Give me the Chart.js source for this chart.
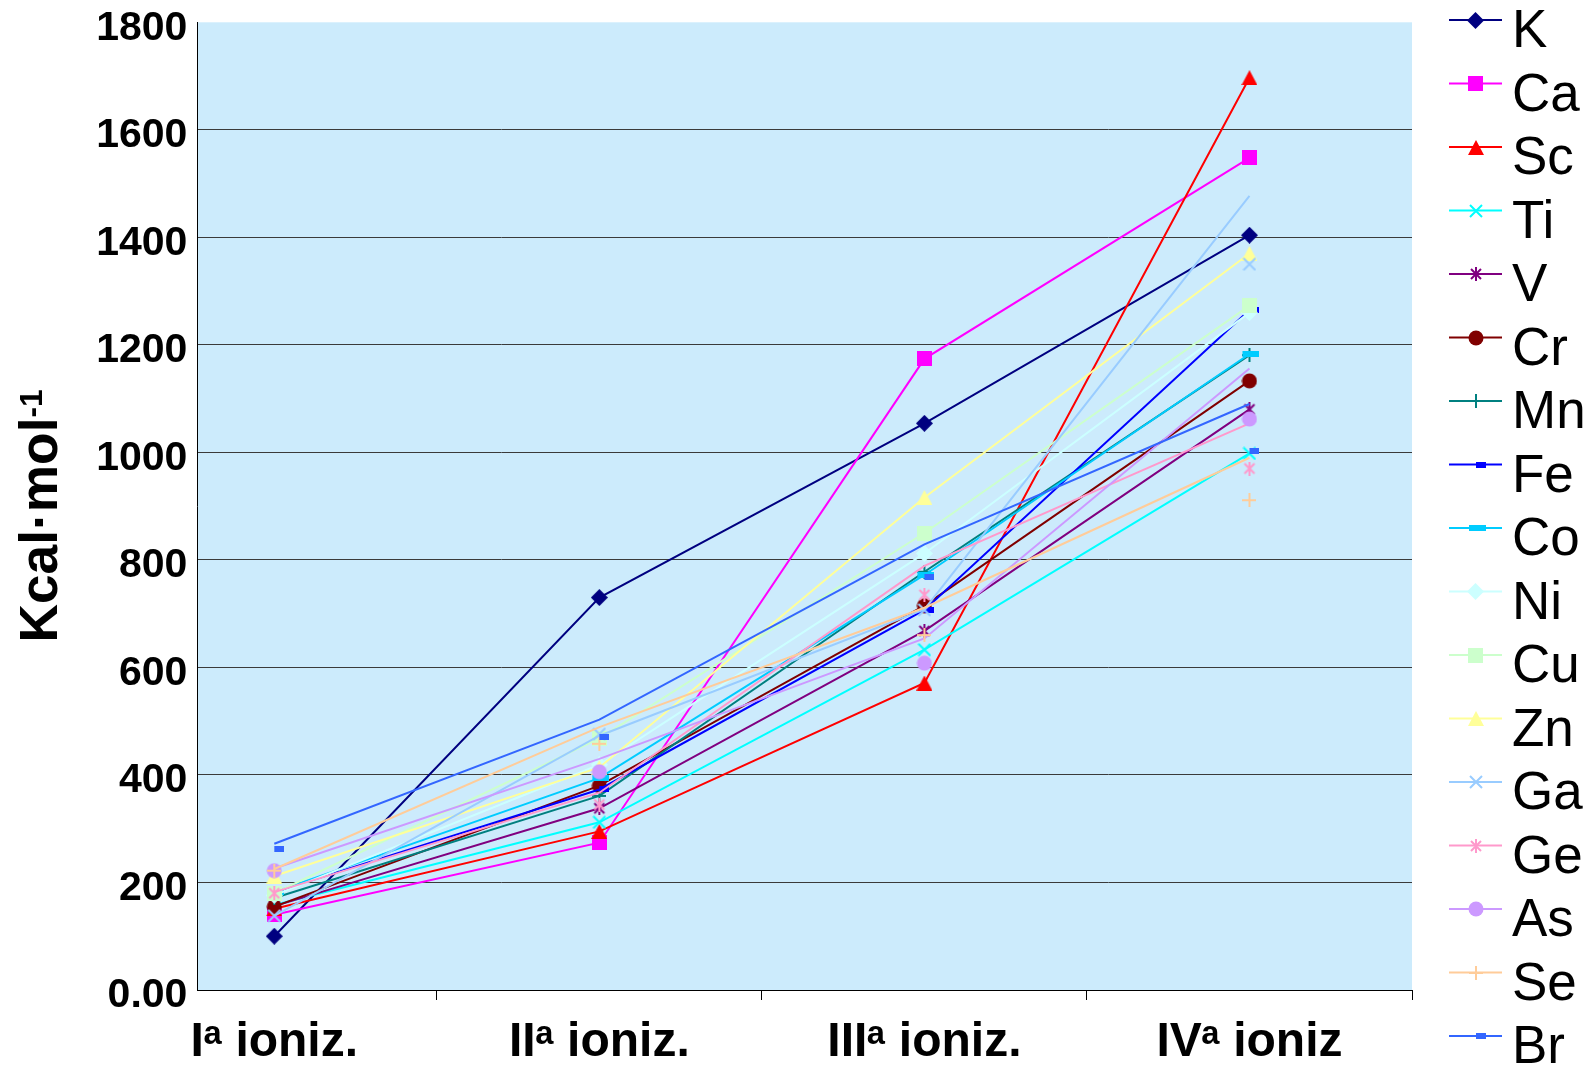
<!DOCTYPE html>
<html>
<head>
<meta charset="utf-8">
<script src="https://cdn.jsdelivr.net/npm/chart.js@4"></script>
<style>
  html, body { margin: 0; padding: 0; background: #fff; overflow: hidden; }
  #wrap { width: 1587px; height: 1077px; }
</style>
</head>
<body>
<div id="wrap"><canvas id="chart" width="1587" height="1077"></canvas></div>
<script>
// Successive ionization energies, kcal/mol
const categories = ['Iᵃ ioniz.', 'IIᵃ ioniz.', 'IIIᵃ ioniz.', 'IVᵃ ioniz'];
const yTickValues = [0, 200, 400, 600, 800, 1000, 1200, 1400, 1600, 1800];
const xTickValues = [0, 0.5, 1, 1.5, 2, 2.5, 3, 3.5];
const yTitle = 'Kcal·mol';
const yTitleSup = '-1';
const elements = ['K', 'Ca', 'Sc', 'Ti', 'V', 'Cr', 'Mn', 'Fe', 'Co', 'Ni', 'Cu', 'Zn', 'Ga', 'Ge', 'As', 'Se', 'Br'];

const K  = [100, 730, 1054, 1404];
const Ca = [140, 274, 1174, 1548];
const Sc = [151, 295, 571, 1697];
const Ti = [158, 312, 633, 998];
const V  = [156, 338, 668, 1080];
const Cr = [155, 380, 715, 1133];
const Mn = [171, 361, 778, 1181];
const Fe = [182, 373, 707, 1265];
const Co = [182, 394, 772, 1183];
const Ni = [176, 419, 812, 1260];
const Cu = [180, 468, 850, 1273];
const Zn = [212, 414, 916, 1370];
const Ga = [138, 473, 708, 1477];
const Ge = [182, 367, 789, 1054];
const As = [226, 430, 654, 1156];
const Se = [225, 489, 711, 990];
const Br = [272, 503, 829, 1090];

// Marker positions for the series whose symbols sit apart from their line
const GaMarks = [138, 476, 707, 1350];
const GeMarks = [180, 345, 735, 970];
const AsMarks = [222, 406, 608, 1062];
const SeMarks = [222, 458, 660, 911];
const BrMarks = [262, 470, 768, 1003];

const lineValues = { K, Ca, Sc, Ti, V, Cr, Mn, Fe, Co, Ni, Cu, Zn, Ga, Ge, As, Se, Br };
const markValues = { Ga: GaMarks, Ge: GeMarks, As: AsMarks, Se: SeMarks, Br: BrMarks };

const seriesStyle = {
  K:  { color: '#000080', marker: 'diamond' },
  Ca: { color: '#FF00FF', marker: 'square' },
  Sc: { color: '#FF0000', marker: 'triangle' },
  Ti: { color: '#00FFFF', marker: 'x' },
  V:  { color: '#800080', marker: 'asterisk' },
  Cr: { color: '#800000', marker: 'circle' },
  Mn: { color: '#008080', marker: 'plus' },
  Fe: { color: '#0000FF', marker: 'dash' },
  Co: { color: '#00CCFF', marker: 'bar' },
  Ni: { color: '#CCFFFF', marker: 'diamond' },
  Cu: { color: '#CCFFCC', marker: 'square' },
  Zn: { color: '#FFFF99', marker: 'triangle' },
  Ga: { color: '#99CCFF', marker: 'x' },
  Ge: { color: '#FF99CC', marker: 'asterisk' },
  As: { color: '#CC99FF', marker: 'circle' },
  Se: { color: '#FFCC99', marker: 'plus' },
  Br: { color: '#3366FF', marker: 'dash' }
};

// Small canvases used as point symbols (and in the legend)
function makeMarker(kind, color) {
  const c = document.createElement('canvas');
  const g = c.getContext('2d');
  const size = (w, h) => {
    c.width = w; c.height = h;
    g.fillStyle = color; g.strokeStyle = color; g.lineWidth = 2;
  };
  switch (kind) {
    case 'diamond':
      size(17, 17);
      g.beginPath(); g.moveTo(8.5, 0); g.lineTo(17, 8.5); g.lineTo(8.5, 17); g.lineTo(0, 8.5); g.closePath(); g.fill();
      break;
    case 'square':
      size(15, 15); g.fillRect(0, 0, 15, 15);
      break;
    case 'triangle':
      size(16, 15);
      g.beginPath(); g.moveTo(8, 0); g.lineTo(16, 15); g.lineTo(0, 15); g.closePath(); g.fill();
      break;
    case 'circle':
      size(16, 16);
      g.beginPath(); g.arc(8, 8, 7.5, 0, Math.PI * 2); g.fill();
      break;
    case 'x':
      size(14, 14);
      g.beginPath(); g.moveTo(1, 1); g.lineTo(13, 13); g.moveTo(13, 1); g.lineTo(1, 13); g.stroke();
      break;
    case 'asterisk':
      size(14, 14);
      g.beginPath(); g.moveTo(2, 2); g.lineTo(12, 12); g.moveTo(12, 2); g.lineTo(2, 12);
      g.moveTo(7, 0); g.lineTo(7, 14); g.stroke();
      break;
    case 'plus':
      size(14, 14);
      g.beginPath(); g.moveTo(7, 0); g.lineTo(7, 14); g.moveTo(0, 7); g.lineTo(14, 7); g.stroke();
      break;
    case 'dash':
      size(20, 6); g.fillRect(10, 0, 10, 6);
      break;
    case 'bar':
      size(20, 6); g.fillRect(3, 0, 17, 6);
      break;
  }
  return c;
}

const markers = {};
elements.forEach(n => { markers[n] = makeMarker(seriesStyle[n].marker, seriesStyle[n].color); });

const toPoints = arr => arr.map((v, i) => ({ x: i, y: v }));

// Each element: its polyline, then its symbols on top; later elements drawn above earlier ones
const datasets = [];
elements.forEach((n, i) => {
  const col = seriesStyle[n].color;
  datasets.push({
    label: n,
    data: toPoints(lineValues[n]),
    borderColor: col,
    backgroundColor: col,
    borderWidth: 2,
    pointRadius: 0,
    tension: 0,
    fill: false,
    order: 1000 - 2 * i
  });
  datasets.push({
    label: n + ' symbols',
    data: toPoints(markValues[n] || lineValues[n]),
    showLine: false,
    pointStyle: markers[n],
    pointRadius: 6,
    borderColor: col,
    backgroundColor: col,
    order: 1000 - 2 * i - 1
  });
});

const FONT = '"Liberation Sans", Arial, sans-serif';

const backdrop = {
  id: 'backdrop',
  beforeDraw(chart) {
    const { ctx, chartArea: a } = chart;
    ctx.save();
    ctx.fillStyle = '#ffffff';
    ctx.fillRect(0, 0, chart.width, chart.height);
    ctx.fillStyle = '#CCEBFC';
    ctx.fillRect(a.left, a.top, a.right - a.left, a.bottom - a.top);
    ctx.restore();
  }
};

const decorations = {
  id: 'decorations',
  afterDraw(chart) {
    const ctx = chart.ctx;

    // Rotated axis title with superscript exponent
    ctx.save();
    ctx.translate(38, 516);
    ctx.rotate(-Math.PI / 2);
    const fMain = 'bold 54px ' + FONT;
    const fSup = 'bold 32px ' + FONT;
    ctx.font = fMain;
    const w1 = ctx.measureText(yTitle).width;
    ctx.font = fSup;
    const w2 = ctx.measureText(yTitleSup).width;
    const total = w1 + w2;
    ctx.scale(253 / total, 1);
    ctx.fillStyle = '#000';
    ctx.textBaseline = 'alphabetic';
    ctx.font = fMain;
    ctx.fillText(yTitle, -total / 2, 19);
    ctx.font = fSup;
    ctx.fillText(yTitleSup, -total / 2 + w1, 4);
    ctx.restore();

    // Legend: line sample with symbol, then element name
    ctx.save();
    ctx.font = '53px ' + FONT;
    ctx.textBaseline = 'alphabetic';
    elements.forEach((n, i) => {
      const y = 20 + i * 63.5;
      ctx.strokeStyle = seriesStyle[n].color;
      ctx.lineWidth = 2;
      ctx.beginPath(); ctx.moveTo(1449, y); ctx.lineTo(1502, y); ctx.stroke();
      const m = markers[n];
      ctx.drawImage(m, Math.round(1475.5 - m.width / 2), Math.round(y - m.height / 2));
      ctx.fillStyle = '#000';
      ctx.fillText(n, 1512, y + 27);
    });
    ctx.restore();
  }
};

new Chart(document.getElementById('chart'), {
  type: 'line',
  data: { datasets },
  options: {
    responsive: false,
    animation: false,
    events: [],
    layout: { padding: { top: 22.3, right: 175, left: 0, bottom: 0 } },
    plugins: { legend: { display: false }, tooltip: { enabled: false } },
    scales: {
      x: {
        type: 'linear',
        min: -0.2366,
        max: 3.5,
        afterBuildTicks: s => { s.ticks = xTickValues.map(v => ({ value: v })); },
        afterFit: s => { s.height = 87; s.paddingLeft = 0; s.paddingRight = 0; },
        grid: {
          drawOnChartArea: false,
          drawTicks: true,
          tickLength: 10,
          lineWidth: 1,
          color: c => (c.tick && c.tick.value % 1 !== 0) ? '#000' : 'rgba(0,0,0,0)'
        },
        border: { display: true, color: '#000', width: 1 },
        ticks: {
          autoSkip: false,
          maxRotation: 0,
          minRotation: 0,
          padding: 14,
          color: '#000',
          font: { family: FONT, size: 48, weight: 'bold' },
          callback: v => Number.isInteger(v) ? categories[v] : ''
        }
      },
      y: {
        min: 0,
        max: 1800,
        afterBuildTicks: s => { s.ticks = yTickValues.map(v => ({ value: v })); },
        afterFit: s => { s.width = 197.4; s.paddingTop = 0; s.paddingBottom = 0; },
        grid: {
          drawTicks: false,
          lineWidth: 1,
          color: c => (c.tick && c.tick.value === 1800) ? 'rgba(0,0,0,0)' : '#3a3a3a'
        },
        border: { color: '#000', width: 1 },
        ticks: {
          padding: 10,
          labelOffset: 6,
          color: '#000',
          font: { family: FONT, size: 41, weight: 'bold' },
          callback: v => v === 0 ? '0.00' : String(v)
        }
      }
    }
  },
  plugins: [backdrop, decorations]
});
</script>
</body>
</html>
